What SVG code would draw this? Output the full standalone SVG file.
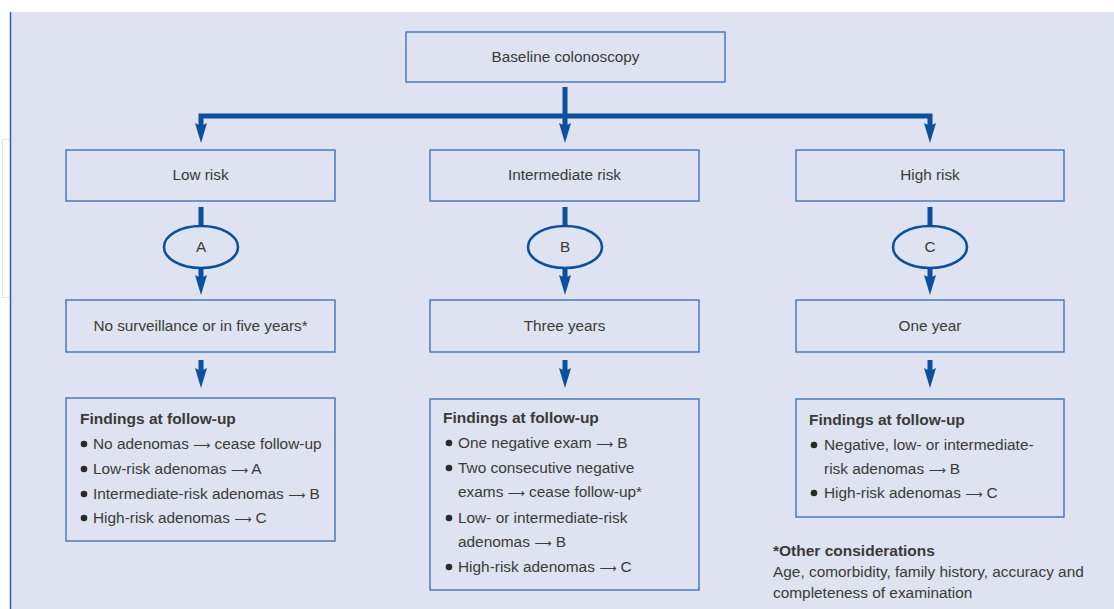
<svg xmlns="http://www.w3.org/2000/svg" xmlns:xlink="http://www.w3.org/1999/xlink" width="1114" height="609" viewBox="0 0 1114 609">
<style>
.box{fill:none;stroke:#3f74b8;stroke-width:1.4}
.ell{fill:none;stroke:#0c4f9c;stroke-width:2.6}
.lbl{font-family:"Liberation Sans",Arial,sans-serif;font-size:15.3px;fill:#3a3a3a;text-anchor:middle}
.txt{font-family:"Liberation Sans",Arial,sans-serif;font-size:15.4px;fill:#3a3a3a}
.hdr{font-family:"Liberation Sans",Arial,sans-serif;font-size:15.5px;font-weight:bold;fill:#3a3a3a}
.arr{font-family:"DejaVu Sans",sans-serif;font-size:12px}
.sh{fill:none;stroke:#0c4f9c;stroke-width:5}
.ah{fill:#0c4f9c}
.dot{fill:#2a2a2a}
</style>
<defs>
<path id="head" d="M-6,-20 Q0,-16 6,-20 L0,0 Z"/>
</defs>
<rect x="0" y="0" width="1114" height="609" fill="#ffffff"/>
<rect x="2.5" y="139.5" width="8" height="158" fill="#ffffff" stroke="#e4e4e4" stroke-width="1"/>
<rect x="10" y="12" width="1104" height="597" fill="#dfe2f0"/>
<line x1="10.5" y1="12" x2="10.5" y2="609" stroke="#2f63ad" stroke-width="1.5"/>

<g id="connectors">
<polyline class="sh" points="565,87 565,125"/>
<polyline class="sh" points="201,126 201,116 930,116 930,126"/>
<use href="#head" class="ah" transform="translate(201,143)"/>
<use href="#head" class="ah" transform="translate(565,143)"/>
<use href="#head" class="ah" transform="translate(930,143)"/>

<line class="sh" x1="201" y1="207" x2="201" y2="226"/>
<line class="sh" x1="565" y1="207" x2="565" y2="226"/>
<line class="sh" x1="930" y1="207" x2="930" y2="226"/>

<line class="sh" x1="201" y1="268" x2="201" y2="280"/>
<line class="sh" x1="565" y1="268" x2="565" y2="280"/>
<line class="sh" x1="930" y1="268" x2="930" y2="280"/>
<use href="#head" class="ah" transform="translate(201,295)"/>
<use href="#head" class="ah" transform="translate(565,295)"/>
<use href="#head" class="ah" transform="translate(930,295)"/>

<line class="sh" x1="201" y1="360" x2="201" y2="373"/>
<line class="sh" x1="565" y1="360" x2="565" y2="373"/>
<line class="sh" x1="930" y1="360" x2="930" y2="373"/>
<use href="#head" class="ah" transform="translate(201,388)"/>
<use href="#head" class="ah" transform="translate(565,388)"/>
<use href="#head" class="ah" transform="translate(930,388)"/>
</g>

<g id="baseline">
<rect class="box" x="406" y="32" width="319" height="50"/>
<text class="lbl" x="565.5" y="62">Baseline colonoscopy</text>
</g>

<g id="low-risk">
<rect class="box" x="66" y="150" width="269" height="51"/>
<text class="lbl" x="200.5" y="180">Low risk</text>
</g>
<g id="intermediate-risk">
<rect class="box" x="430" y="150" width="269" height="51"/>
<text class="lbl" x="564.5" y="180">Intermediate risk</text>
</g>
<g id="high-risk">
<rect class="box" x="796" y="150" width="268" height="51"/>
<text class="lbl" x="930" y="180">High risk</text>
</g>

<g id="node-a">
<ellipse class="ell" cx="201" cy="247" rx="37" ry="21"/>
<text class="lbl" x="201" y="252">A</text>
</g>
<g id="node-b">
<ellipse class="ell" cx="565" cy="247" rx="37" ry="21"/>
<text class="lbl" x="565" y="252">B</text>
</g>
<g id="node-c">
<ellipse class="ell" cx="930" cy="247" rx="37" ry="21"/>
<text class="lbl" x="930" y="252">C</text>
</g>

<g id="interval-low">
<rect class="box" x="66" y="300" width="269" height="52"/>
<text class="lbl" x="200.5" y="331">No surveillance or in five years*</text>
</g>
<g id="interval-intermediate">
<rect class="box" x="430" y="300" width="269" height="52"/>
<text class="lbl" x="564.5" y="331">Three years</text>
</g>
<g id="interval-high">
<rect class="box" x="796" y="300" width="268" height="52"/>
<text class="lbl" x="930" y="331">One year</text>
</g>

<g id="findings-low">
<rect class="box" x="66" y="398" width="269" height="143"/>
<text class="hdr" x="80" y="424">Findings at follow-up</text>
<circle class="dot" cx="84" cy="444" r="3.3"/>
<text class="txt" x="93" y="449">No adenomas <tspan class="arr">⟶</tspan> cease follow-up</text>
<circle class="dot" cx="84" cy="469" r="3.3"/>
<text class="txt" x="93" y="474">Low-risk adenomas <tspan class="arr">⟶</tspan> A</text>
<circle class="dot" cx="84" cy="494" r="3.3"/>
<text class="txt" x="93" y="499">Intermediate-risk adenomas <tspan class="arr">⟶</tspan> B</text>
<circle class="dot" cx="84" cy="518" r="3.3"/>
<text class="txt" x="93" y="523">High-risk adenomas <tspan class="arr">⟶</tspan> C</text>
</g>

<g id="findings-intermediate">
<rect class="box" x="430" y="399" width="269" height="191"/>
<text class="hdr" x="443" y="423">Findings at follow-up</text>
<circle class="dot" cx="449" cy="443" r="3.3"/>
<text class="txt" x="458" y="448">One negative exam <tspan class="arr">⟶</tspan> B</text>
<circle class="dot" cx="449" cy="468" r="3.3"/>
<text class="txt" x="458" y="473">Two consecutive negative</text>
<text class="txt" x="458" y="497">exams <tspan class="arr">⟶</tspan> cease follow-up*</text>
<circle class="dot" cx="449" cy="518" r="3.3"/>
<text class="txt" x="458" y="523">Low- or intermediate-risk</text>
<text class="txt" x="458" y="547">adenomas <tspan class="arr">⟶</tspan> B</text>
<circle class="dot" cx="449" cy="567" r="3.3"/>
<text class="txt" x="458" y="572">High-risk adenomas <tspan class="arr">⟶</tspan> C</text>
</g>

<g id="findings-high">
<rect class="box" x="796" y="399" width="268" height="118"/>
<text class="hdr" x="809" y="425">Findings at follow-up</text>
<circle class="dot" cx="814" cy="445" r="3.3"/>
<text class="txt" x="824" y="450">Negative, low- or intermediate-</text>
<text class="txt" x="824" y="474">risk adenomas <tspan class="arr">⟶</tspan> B</text>
<circle class="dot" cx="814" cy="493" r="3.3"/>
<text class="txt" x="824" y="498">High-risk adenomas <tspan class="arr">⟶</tspan> C</text>
</g>

<g id="other-considerations">
<text class="hdr" x="773" y="556">*Other considerations</text>
<text class="txt" x="773" y="577">Age, comorbidity, family history, accuracy and</text>
<text class="txt" x="773" y="598">completeness of examination</text>
</g>
</svg>
